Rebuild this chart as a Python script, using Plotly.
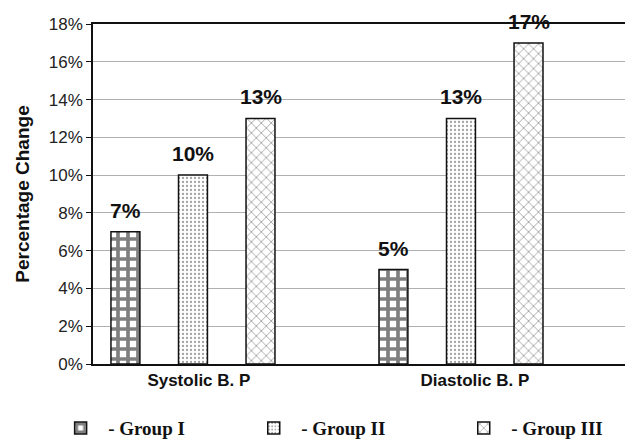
import plotly.graph_objects as go

categories = ["Systolic B. P", "Diastolic B. P"]
group_names = ["- Group I", "- Group II", "- Group III"]
group1 = [7, 5]
group2 = [10, 13]
group3 = [13, 17]
y_ticks = [0, 2, 4, 6, 8, 10, 12, 14, 16, 18]
y_tick_labels = [f"{v}%" for v in y_ticks]

series = [group1, group2, group3]
patterns = [
    dict(shape="+", fgcolor="black", bgcolor="white", size=10, solidity=0.6),
    dict(shape=".", fgcolor="#444", bgcolor="white", size=4, solidity=0.25),
    dict(shape="x", fgcolor="#333", bgcolor="white", size=7, solidity=0.22),
]
offsets = [-0.306, -0.054, 0.198]
bar_w = 0.108
legend_ids = ["legend", "legend2", "legend3"]
legend_x = [0.085, 0.394, 0.730]
cat_idx = list(range(len(categories)))

fig = go.Figure()
for name, vals, pat, off, lid in zip(group_names, series, patterns, offsets, legend_ids):
    fig.add_trace(go.Bar(
        x=cat_idx, y=vals, name=f"<b>{name}</b>", legend=lid,
        width=bar_w, offset=off,
        marker=dict(color="white", pattern=pat, line=dict(color="#111", width=1.5)),
        hoverinfo="skip",
    ))
    for i, v in zip(cat_idx, vals):
        fig.add_annotation(
            x=i + off + bar_w / 2, y=v, xref="x", yref="y",
            text=f"<b>{v}%</b>", showarrow=False,
            yanchor="bottom", yshift=8,
            font=dict(family="Liberation Sans, Arial", size=21, color="#111"),
        )

legend_style = dict(orientation="h", xref="container", yref="container",
                    xanchor="left", y=0.027, yanchor="middle",
                    font=dict(family="Liberation Serif, Times New Roman", size=19, color="#111"),
                    itemwidth=45, bgcolor="rgba(0,0,0,0)")
legends = {lid: dict(legend_style, x=lx) for lid, lx in zip(legend_ids, legend_x)}

fig.update_layout(
    width=625, height=440,
    margin=dict(l=93, r=0, t=24, b=76, autoexpand=False),
    paper_bgcolor="white", plot_bgcolor="white",
    barmode="overlay",
    showlegend=True,
    font=dict(family="Liberation Sans, Arial", color="#222"),
    **legends,
)
fig.update_xaxes(
    tickmode="array", tickvals=[0.022, 1.052],
    ticktext=[f"<b>{c}</b>" for c in categories],
    range=[-0.373, 1.612], automargin=False,
    showline=True, linecolor="#111", linewidth=1.5, mirror=True,
    showgrid=False, ticks="", tickfont=dict(size=17, color="#111"),
    zeroline=False,
)
fig.update_yaxes(
    range=[0, 18], tickmode="array", tickvals=y_ticks, ticktext=y_tick_labels,
    automargin=False,
    showline=True, linecolor="#111", linewidth=1.5, mirror=False,
    ticks="outside", ticklen=5, tickcolor="#111",
    showgrid=True, gridcolor="#b0b0b0", gridwidth=1,
    zeroline=False, tickfont=dict(size=17, color="#222"),
    title=dict(text="<b>Percentage Change</b>", font=dict(size=19, color="#111"), standoff=14),
)

# remove the browser's default 8px body margin so the 625x440 figure fills the window
fig.write_html("out.html", config={"displayModeBar": False},
               post_script="document.body.style.margin='0';")
